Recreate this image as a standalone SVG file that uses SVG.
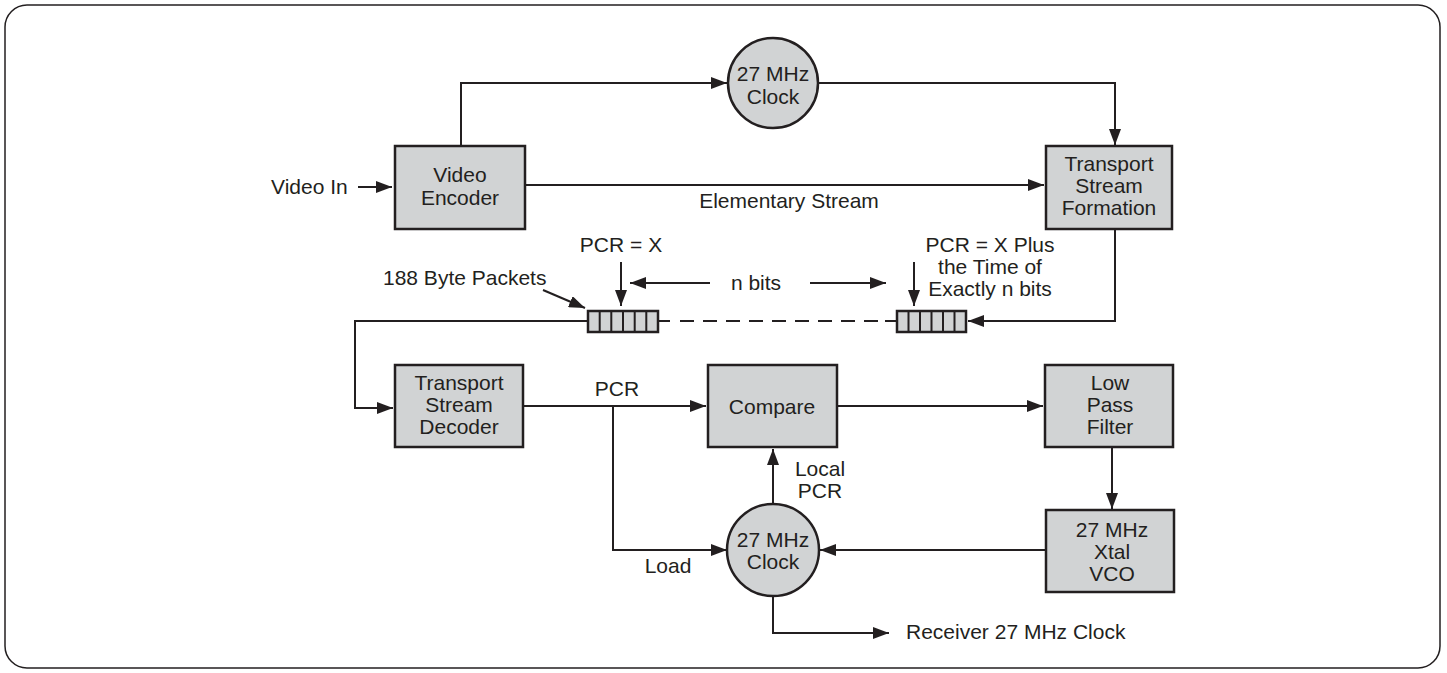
<svg xmlns="http://www.w3.org/2000/svg" width="1447" height="673" viewBox="0 0 1447 673">
<style>
.box{fill:#d1d3d4;stroke:#231f20;stroke-width:2.5}
.ln{fill:none;stroke:#231f20;stroke-width:2}
.t{font-family:"Liberation Sans",Arial,sans-serif;font-size:21px;fill:#231f20}
.m{text-anchor:middle}
</style>
<defs>
<marker id="ah" viewBox="0 0 16 12" refX="16" refY="6" markerWidth="16" markerHeight="12" orient="auto" markerUnits="userSpaceOnUse"><path d="M0,0 L16,6 L0,12 z" fill="#231f20"/></marker>
</defs>
<rect x="5" y="5" width="1435" height="663" rx="22" fill="#fff" stroke="#231f20" stroke-width="1.5"/>

<g id="connectors">
<path class="ln" d="M358,187 H392" marker-end="url(#ah)"/>
<path class="ln" d="M461,146 V83 H727" marker-end="url(#ah)"/>
<path class="ln" d="M819,83 H1115 V145" marker-end="url(#ah)"/>
<path class="ln" d="M525,185 H1044" marker-end="url(#ah)"/>
<path class="ln" d="M1115,229 V321 H968" marker-end="url(#ah)"/>
<path class="ln" d="M588,321 H355 V408 H393" marker-end="url(#ah)"/>
<path class="ln" d="M658,321 H670"/>
<path class="ln" d="M885,321 H897"/>
<path class="ln" d="M680,321 H880" stroke-dasharray="14,9"/>
<path class="ln" d="M543,290 L585,308" marker-end="url(#ah)"/>
<path class="ln" d="M621,262 V306" marker-end="url(#ah)"/>
<path class="ln" d="M914,262 V306" marker-end="url(#ah)"/>
<path class="ln" d="M710,283 H630" marker-end="url(#ah)"/>
<path class="ln" d="M810,283 H886" marker-end="url(#ah)"/>
<path class="ln" d="M523,406 H706" marker-end="url(#ah)"/>
<path class="ln" d="M613,406 V550 H727" marker-end="url(#ah)"/>
<path class="ln" d="M837,406 H1043" marker-end="url(#ah)"/>
<path class="ln" d="M1112,447 V509" marker-end="url(#ah)"/>
<path class="ln" d="M1046,550 H820" marker-end="url(#ah)"/>
<path class="ln" d="M773,504 V449" marker-end="url(#ah)"/>
<path class="ln" d="M773,596 V633 H889" marker-end="url(#ah)"/>
</g>

<g id="video-in"><text class="t" x="271" y="194">Video In</text></g>

<g id="video-encoder">
<rect class="box" x="395" y="146" width="130" height="83"/>
<text class="t m" x="460" y="182">Video</text>
<text class="t m" x="460" y="205">Encoder</text>
</g>

<g id="clock-tx">
<circle class="box" cx="773" cy="83" r="45"/>
<text class="t m" x="773" y="81">27 MHz</text>
<text class="t m" x="773" y="104">Clock</text>
</g>

<g id="ts-formation">
<rect class="box" x="1046" y="146" width="126" height="83"/>
<text class="t m" x="1109" y="171">Transport</text>
<text class="t m" x="1109" y="193">Stream</text>
<text class="t m" x="1109" y="215">Formation</text>
</g>

<g id="elementary-label"><text class="t m" x="789" y="208">Elementary Stream</text></g>

<g id="packets-left">
<rect class="box" x="588" y="311" width="70" height="21"/>
<path class="ln" d="M599.7,311 V332 M611.3,311 V332 M623,311 V332 M634.7,311 V332 M646.3,311 V332" stroke-width="2.5"/>
</g>
<g id="packets-right">
<rect class="box" x="897" y="311" width="69" height="21"/>
<path class="ln" d="M908.5,311 V332 M920,311 V332 M931.5,311 V332 M943,311 V332 M954.5,311 V332" stroke-width="2.5"/>
</g>

<g id="labels-packets">
<text class="t" x="383" y="285">188 Byte Packets</text>
<text class="t m" x="621" y="252">PCR = X</text>
<text class="t m" x="756" y="290">n bits</text>
<text class="t m" x="990" y="252">PCR = X Plus</text>
<text class="t m" x="990" y="274">the Time of</text>
<text class="t m" x="990" y="296">Exactly n bits</text>
</g>

<g id="ts-decoder">
<rect class="box" x="395" y="365" width="128" height="82"/>
<text class="t m" x="459" y="390">Transport</text>
<text class="t m" x="459" y="412">Stream</text>
<text class="t m" x="459" y="434">Decoder</text>
</g>

<g id="pcr-label"><text class="t m" x="617" y="396">PCR</text></g>

<g id="compare">
<rect class="box" x="708" y="365" width="129" height="82"/>
<text class="t m" x="772" y="414">Compare</text>
</g>

<g id="lpf">
<rect class="box" x="1045" y="365" width="128" height="82"/>
<text class="t m" x="1110" y="390">Low</text>
<text class="t m" x="1110" y="412">Pass</text>
<text class="t m" x="1110" y="434">Filter</text>
</g>

<g id="vco">
<rect class="box" x="1046" y="510" width="128" height="82"/>
<text class="t m" x="1112" y="537">27 MHz</text>
<text class="t m" x="1112" y="559">Xtal</text>
<text class="t m" x="1112" y="581">VCO</text>
</g>

<g id="clock-rx">
<circle class="box" cx="773" cy="550" r="46"/>
<text class="t m" x="773" y="547">27 MHz</text>
<text class="t m" x="773" y="569">Clock</text>
</g>

<g id="local-pcr"><text class="t m" x="820" y="476">Local</text><text class="t m" x="820" y="498">PCR</text></g>
<g id="load"><text class="t m" x="668" y="573">Load</text></g>
<g id="receiver-label"><text class="t" x="906" y="639">Receiver 27 MHz Clock</text></g>
</svg>
